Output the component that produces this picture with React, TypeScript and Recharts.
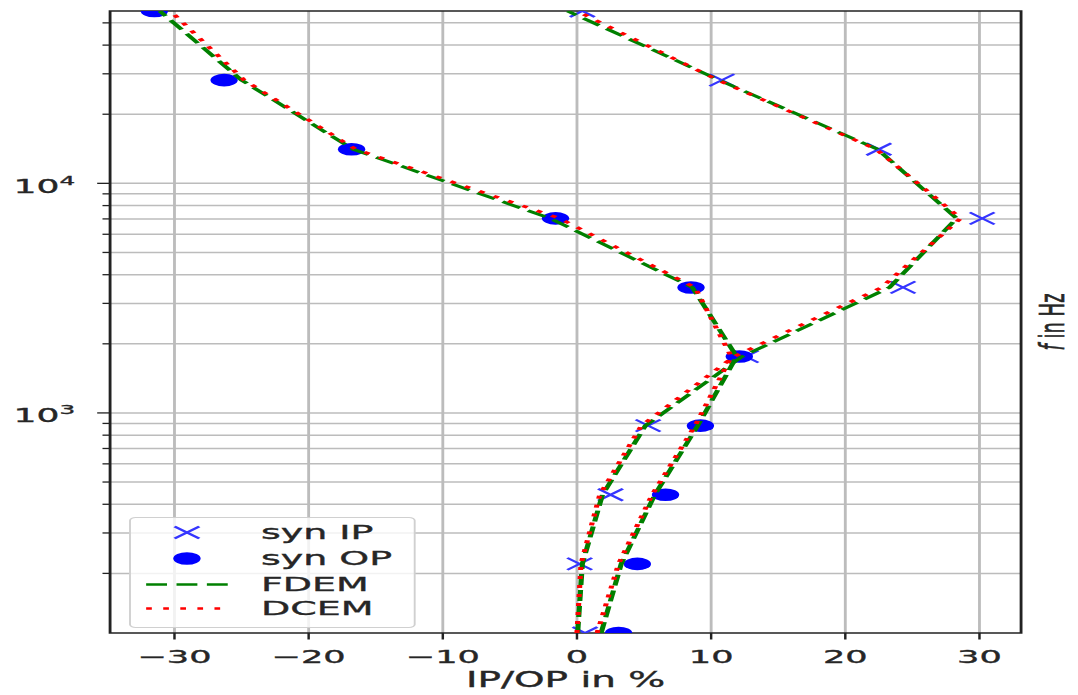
import React from 'react';
import { ScatterChart, Scatter, XAxis, YAxis, CartesianGrid, Legend, ReferenceArea } from 'recharts';

// Frequencies (Hz)
const freqs = [110, 220, 440, 880, 1760, 3520, 7040, 14080, 28160, 56320];
// Synthetic data (markers)
const synIP = [0.6, 0.2, 2.5, 5.3, 12.6, 24.3, 30.2, 22.5, 10.8, 0.4];
const synOP = [3.1, 4.5, 6.6, 9.2, 12.1, 8.5, -1.6, -16.8, -26.3, -31.5];
// Modelled curves
const fdemIP = [0.05, 0.4, 1.9, 5.1, 12.3, 23.3, 28.3, 22.4, 10.6, -0.7];
const dcemIP = [0.0, 0.3, 1.7, 4.8, 11.7, 22.7, 28.6, 22.3, 10.5, 0.0];
const fdemOP = [1.8, 3.3, 5.8, 9.0, 11.9, 8.6, -2.0, -16.7, -25.0, -31.1];
const dcemOP = [1.5, 3.1, 5.6, 8.8, 11.5, 8.8, -1.3, -16.5, -24.8, -30.3];

// Axes
const xTicks = [-30, -20, -10, 0, 10, 20, 30];
const yTicks = [200, 300, 400, 500, 600, 700, 800, 900, 1000, 2000, 3000, 4000, 5000, 6000, 7000, 8000, 9000, 10000, 20000, 30000, 40000, 50000];
const yMajor = [1000, 10000];
const xDomain: [number, number] = [-34.8, 33.1];
const yDomain: [number, number] = [110, 56320];

const legendNames = ['syn IP', 'syn OP', 'FDEM', 'DCEM'];
const xLabel = 'IP/OP in %';

const toPoints = (vals: number[]) => freqs.map((f, i) => ({ x: vals[i], y: f }));

const FONT = '"DejaVu Sans", Verdana, sans-serif';
const W = 568;
const H = 695;
const SX = 1078 / W;
const TXT = '#262626';
const TSTROKE = { stroke: TXT, strokeWidth: 0.35 };

const GREEN_LINE = { stroke: '#008000', strokeWidth: 2.7, strokeDasharray: '11 5' };
const RED_LINE = { stroke: '#ff0000', strokeWidth: 2.7, strokeDasharray: '3 6' };

const XShape = (props: any) => {
  const { cx, cy } = props;
  if (cx == null || cy == null) return <g />;
  const a = 6.5, b = 6;
  return (
    <path d={`M${cx - a},${cy - b}L${cx + a},${cy + b}M${cx - a},${cy + b}L${cx + a},${cy - b}`} stroke="#3535ff" strokeWidth={1.8} fill="none" />
  );
};

const DotShape = (props: any) => {
  const { cx, cy } = props;
  if (cx == null || cy == null) return <g />;
  return <ellipse cx={cx} cy={cy} rx={7.2} ry={6.3} fill="#0000ff" />;
};

const NoShape = () => <g />;

function XTick(props: any) {
  const { x, y, payload } = props;
  const v = payload.value;
  const label = v < 0 ? '\u2212' + Math.abs(v) : String(v);
  return (
    <g>
      <line x1={x} y1={y} x2={x} y2={y + 6.5} stroke="#222" strokeWidth={1.3} />
      <text x={x} y={y + 30} textAnchor="middle" fontSize={18.5} fontFamily={FONT} fill={TXT} {...TSTROKE}>{label}</text>
    </g>
  );
}

function YTick(props: any) {
  const { x, y, payload } = props;
  const v = payload.value;
  const major = yMajor.includes(v);
  const len = major ? 6.8 : 4;
  return (
    <g>
      <line x1={x - len} y1={y} x2={x} y2={y} stroke="#222" strokeWidth={1.3} />
      {major && (
        <text x={x - 18.4} y={y + 9.5} textAnchor="end" fontSize={19} fontFamily={FONT} fill={TXT} {...TSTROKE}>
          10<tspan fontSize={13} dy={-8}>{Math.round(Math.log10(v))}</tspan>
        </text>
      )}
    </g>
  );
}

function XLabel(props: any) {
  const vb = props.viewBox || {};
  const x = (vb.x ?? 58) + (vb.width ?? 480) / 2;
  const y = (vb.y ?? 633) + (vb.height ?? 62) - 8;
  return (
    <text x={x} y={y} textAnchor="middle" fontSize={20.5} fontFamily={FONT} fill={TXT} {...TSTROKE}>{xLabel}</text>
  );
}

function RightLabel(props: any) {
  const vb = props.viewBox || {};
  const cx = (vb.x ?? 538) + 22.6;
  const cy = (vb.y ?? 11) + (vb.height ?? 622) / 2;
  return (
    <text transform={`translate(${cx},${cy}) rotate(-90)`} textAnchor="middle" fontSize={18} fontFamily={FONT} fill={TXT} {...TSTROKE}>
      <tspan fontStyle="italic">f</tspan> in Hz
    </text>
  );
}

function LegendBox() {
  const rowY = [15.5, 41.5, 67.5, 91.5];
  const mx = 30.5;
  return (
    <svg width={152} height={112} style={{ display: 'block', overflow: 'visible' }}>
      <rect x={0.5} y={0.5} width={150} height={110} rx={3} fill="#ffffff" fillOpacity={0.8} stroke="#d0d0d0" strokeWidth={1} />
      <XShape cx={mx} cy={rowY[0]} />
      <DotShape cx={mx} cy={rowY[1]} />
      <line x1={9} y1={rowY[2]} x2={52} y2={rowY[2]} {...GREEN_LINE} />
      <line x1={9} y1={rowY[3]} x2={52} y2={rowY[3]} {...RED_LINE} />
      {legendNames.map((n, i) => (
        <text key={n} x={69.5} y={rowY[i] + 7} fontSize={20} fontFamily={FONT} fill={TXT} {...TSTROKE}>{n}</text>
      ))}
    </svg>
  );
}

export default function App() {
  return (
    <div style={{ position: 'absolute', left: 0, top: 0, width: W, height: H, transform: `scaleX(${SX})`, transformOrigin: '0 0', background: '#fff' }}>
      <ScatterChart width={W} height={H} margin={{ top: 11, right: 0, bottom: 0, left: 0 }}>
        <CartesianGrid stroke="#bcbcbc" strokeWidth={1.5} horizontalValues={yTicks} verticalValues={xTicks} />
        <XAxis
          type="number"
          dataKey="x"
          domain={xDomain}
          allowDataOverflow
          ticks={xTicks}
          interval={0}
          height={62}
          axisLine={false}
          tickLine={false}
          tickSize={0}
          tickMargin={0}
          tick={<XTick />}
          label={<XLabel />}
        />
        <YAxis
          type="number"
          dataKey="y"
          scale="log"
          domain={yDomain}
          allowDataOverflow
          ticks={yTicks}
          interval={0}
          width={58}
          axisLine={false}
          tickLine={false}
          tickSize={0}
          tickMargin={0}
          tick={<YTick />}
        />
        <YAxis
          yAxisId="r"
          orientation="right"
          type="number"
          domain={[0, 1]}
          width={30}
          axisLine={false}
          tickLine={false}
          tick={false}
          label={<RightLabel />}
        />
        <Scatter name="syn IP" data={toPoints(synIP)} fill="#3535ff" shape={XShape} isAnimationActive={false} />
        <Scatter name="syn OP" data={toPoints(synOP)} fill="#0000ff" shape={DotShape} isAnimationActive={false} />
        <Scatter name="FDEM IP" data={toPoints(fdemIP)} fill="#008000" shape={NoShape} lineType="joint"
          line={GREEN_LINE} isAnimationActive={false} />
        <Scatter name="FDEM OP" data={toPoints(fdemOP)} fill="#008000" shape={NoShape} lineType="joint"
          line={GREEN_LINE} isAnimationActive={false} />
        <Scatter name="DCEM IP" data={toPoints(dcemIP)} fill="#ff0000" shape={NoShape} lineType="joint"
          line={RED_LINE} isAnimationActive={false} />
        <Scatter name="DCEM OP" data={toPoints(dcemOP)} fill="#ff0000" shape={NoShape} lineType="joint"
          line={RED_LINE} isAnimationActive={false} />
        <ReferenceArea x1={xDomain[0]} x2={xDomain[1]} y1={yDomain[0]} y2={yDomain[1]} fill="none" fillOpacity={0}
          stroke="#222" strokeWidth={1.5} ifOverflow="visible" />
        <Legend
          layout="horizontal"
          verticalAlign="middle"
          align="center"
          content={() => <LegendBox />}
          wrapperStyle={{ left: 68.4, top: 516.5, width: 152, height: 112 }}
        />
      </ScatterChart>
    </div>
  );
}
